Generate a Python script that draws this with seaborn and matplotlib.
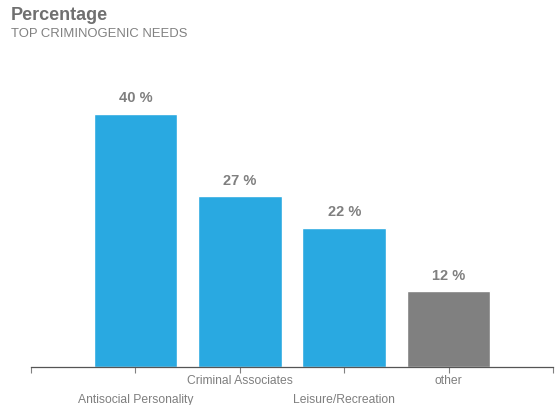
import matplotlib
matplotlib.use("Agg")
import matplotlib.pyplot as plt
import seaborn as sns
import pandas as pd

categories = ["Antisocial Personality", "Criminal Associates", "Leisure/Recreation", "other"]
percentages = [40, 27, 22, 12]
bar_colors = ["#29A9E1", "#29A9E1", "#29A9E1", "#808080"]

sns.set_theme(style="white")
plt.rcParams["font.family"] = ["Liberation Sans", "DejaVu Sans"]

df = pd.DataFrame({"category": categories, "pct": percentages})

fig = plt.figure(figsize=(5.56, 4.06), dpi=100)
ax = fig.add_axes([31 / 556, 38 / 406, (553 - 31) / 556, (368 - 60) / 406])

sns.barplot(data=df, x="category", y="pct", hue="category", palette=bar_colors,
            order=categories, hue_order=categories, width=0.8, saturation=1,
            legend=False, ax=ax)

ax.set_xlim(-1, 4)
ax.set_ylim(0, (368 - 60) / 6.33)

for i, v in enumerate(percentages):
    ax.text(i, v + 1.5, f"{v} %", ha="center", va="bottom", fontsize=10.5,
            fontweight="bold", color="#7F7F7F")

# category ticks with staggered labels
ax.set_xticks([-1, 0, 1, 2, 3, 4])
ax.set_xticklabels([])
for i, name in enumerate(categories):
    dy = -24 if i % 2 == 0 else -5
    ax.annotate(name, xy=(i, 0), xycoords=("data", "axes fraction"),
                xytext=(0, dy - 2), textcoords="offset pixels",
                ha="center", va="top", fontsize=8.7, color="#7F7F7F")
ax.tick_params(axis="x", length=4, width=0.8, color="#808080", bottom=True, direction="out")
ax.set_yticks([])
ax.set_xlabel("")
ax.set_ylabel("")
for s in ["top", "right", "left"]:
    ax.spines[s].set_visible(False)
ax.spines["bottom"].set_color("#555555")
ax.spines["bottom"].set_linewidth(0.9)

fig.text(11 / 556, 1 - 20 / 406, "Percentage", fontsize=13, fontweight="bold",
         color="#707070", va="baseline")
fig.text(11 / 556, 1 - 37 / 406, "TOP CRIMINOGENIC NEEDS", fontsize=9.4,
         color="#808080", va="baseline")

fig.savefig("out.png", dpi=100)
